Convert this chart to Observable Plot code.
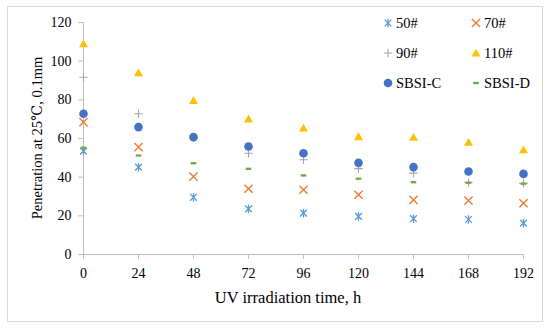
<!DOCTYPE html>
<html><head><meta charset="utf-8">
<script src="https://cdn.jsdelivr.net/npm/d3@7"></script>
<script src="https://cdn.jsdelivr.net/npm/@observablehq/plot@0.6"></script>
<style>
body{margin:0;background:#fff;}
#wrap{position:relative;width:550px;height:330px;}
#frame{position:absolute;left:7px;top:6px;width:536px;height:316px;border:1px solid #d9d9d9;box-sizing:border-box;pointer-events:none;}
</style></head>
<body><div id="wrap"><div id="frame"></div></div>
<script>
const hours = [0, 24, 48, 72, 96, 120, 144, 168, 192];
const seriesNames = ["50#", "70#", "90#", "110#", "SBSI-C", "SBSI-D"];
const pen50  = [53.5, 45.2, 29.6, 23.6, 21.4, 19.7, 18.5, 18.1, 16.2];
const pen70  = [68.5, 55.5, 40.3, 34.0, 33.5, 30.9, 28.3, 27.9, 26.5];
const pen90  = [91.7, 72.8, 60.5, 52.4, 49.0, 44.4, 42.1, 37.3, 36.8];
const pen110 = [109.0, 94.0, 79.7, 70.2, 65.5, 61.0, 60.7, 58.1, 54.2];
const penC   = [72.8, 65.9, 60.7, 55.9, 52.4, 47.4, 45.2, 42.9, 41.7];
const penD   = [55.2, 51.2, 47.2, 44.3, 40.9, 39.2, 37.4, 37.1, 36.6];
const seriesValues = [pen50, pen70, pen90, pen110, penC, penD];
const seriesColors = ["#5B9BD5", "#ED7D31", "#A5A5A5", "#FFC000", "#4472C4", "#70AD47"];
const yTicks = [0, 20, 40, 60, 80, 100, 120];
const xTicks = hours;

const shapes = [
  {filled:false, sw:1.3, draw(c){const a=3.4,v=4.3;c.moveTo(-a,-a);c.lineTo(a,a);c.moveTo(-a,a);c.lineTo(a,-a);c.moveTo(0,-v);c.lineTo(0,v);}},
  {filled:false, sw:1.4, draw(c){const a=4.1;c.moveTo(-a,-a);c.lineTo(a,a);c.moveTo(-a,a);c.lineTo(a,-a);}},
  {filled:false, sw:1.1, draw(c){const a=4.2;c.moveTo(-a,0);c.lineTo(a,0);c.moveTo(0,-a);c.lineTo(0,a);}},
  {filled:true, draw(c){c.moveTo(0,-4.2);c.lineTo(4.5,3.6);c.lineTo(-4.5,3.6);c.closePath();}},
  {filled:true, draw(c){const r=4.3;c.moveTo(r,0);c.arc(0,0,r,0,2*Math.PI);c.closePath();}},
  {filled:true, draw(c){c.rect(-2.8,-1.2,5.6,2.4);}}
];

const rows = [];
seriesNames.forEach((name, i) => hours.forEach((h, j) => rows.push({series: name, hour: h, value: seriesValues[i][j], idx: i})));

const dotMarks = seriesNames.map((name, i) => {
  const s = shapes[i];
  return Plot.dot(rows.filter(d => d.series === name), {
    x: "hour", y: "value", r: 4,
    symbol: {draw: (c, size) => s.draw(c)},
    fill: s.filled ? seriesColors[i] : "none",
    stroke: s.filled ? "none" : seriesColors[i],
    strokeWidth: s.sw || 0
  });
});

const font = "'Liberation Serif', 'DejaVu Serif', serif";
const chart = Plot.plot({
  width: 550, height: 330,
  marginLeft: 83, marginRight: 27, marginTop: 22, marginBottom: 76,
  style: {fontFamily: font, fontSize: "14px", color: "#000", background: "transparent", overflow: "visible"},
  x: {domain: [0, 192], label: null},
  y: {domain: [0, 120], label: null},
  marks: [
    Plot.ruleX([0], {stroke: "#bfbfbf"}),
    Plot.ruleY([0], {stroke: "#bfbfbf"}),
    Plot.axisY({ticks: yTicks, tickSize: 5, tickPadding: 7, stroke: "#bfbfbf", fill: "#000", label: null, fontSize: 14}),
    Plot.axisX({ticks: xTicks, tickSize: 5, tickPadding: 9, stroke: "#bfbfbf", fill: "#000", label: null, fontSize: 14}),
    ...dotMarks
  ]
});
chart.style.position = "absolute";
chart.style.left = "0px";
chart.style.top = "0px";
document.getElementById("wrap").prepend(chart);

const svg = d3.select(chart);
svg.append("text").attr("x", 288).attr("y", 303).attr("text-anchor", "middle")
  .attr("font-family", font).attr("font-size", 16.5).attr("fill", "#000")
  .text("UV irradiation time, h");
svg.append("text").attr("transform", "translate(42,138) rotate(-90)").attr("text-anchor", "middle")
  .attr("font-family", font).attr("font-size", 14.5).attr("fill", "#000")
  .text("Penetration at 25℃, 0.1mm");

const legendPos = [[388, 23], [476, 23], [388, 53], [476, 53], [388, 83], [476, 83]];
seriesNames.forEach((name, i) => {
  const [lx, ly] = legendPos[i];
  const s = shapes[i];
  const p = d3.path(); s.draw(p);
  svg.append("path").attr("transform", `translate(${lx},${ly})`).attr("d", p.toString())
    .attr("fill", s.filled ? seriesColors[i] : "none")
    .attr("stroke", s.filled ? "none" : seriesColors[i])
    .attr("stroke-width", s.sw || 0);
  svg.append("text").attr("x", lx + 8).attr("y", ly + 5).attr("text-anchor", "start")
    .attr("font-family", font).attr("font-size", 14.5).attr("fill", "#000").text(name);
});
</script>
</body></html>
